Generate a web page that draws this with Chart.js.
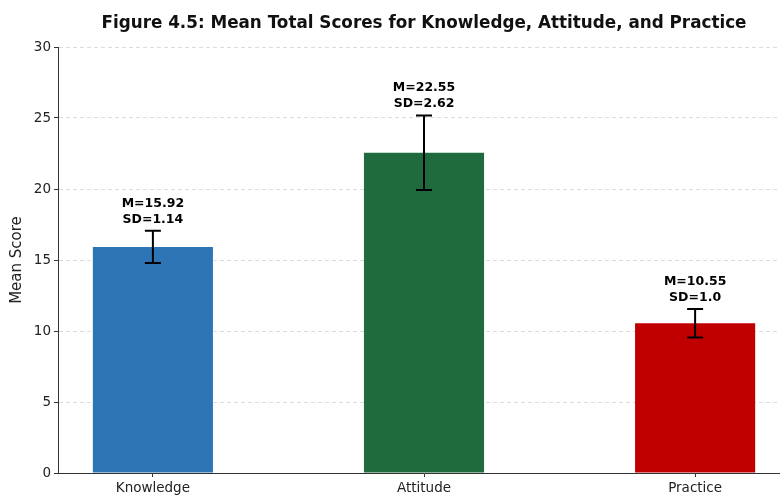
<!DOCTYPE html>
<html>
<head>
<meta charset="utf-8">
<script src="https://cdn.jsdelivr.net/npm/chart.js@4.4.1/dist/chart.umd.min.js"></script>
<style>
  html, body { margin: 0; padding: 0; background: #fff; overflow: hidden; }
  #wrap { position: relative; width: 780px; height: 495px; overflow: hidden; }
</style>
</head>
<body>
<div id="wrap"><canvas id="kap-chart" width="848" height="495"></canvas></div>
<script>
// mean total scores per domain
const categories = ["Knowledge", "Attitude", "Practice"];
const means = [15.92, 22.55, 10.55];
const sds = [1.14, 2.62, 1.0];
const sdLabels = ["1.14", "2.62", "1.0"];
const barColors = ["#2e75b6", "#1f6b3e", "#c00000"];
const yTicks = [0, 5, 10, 15, 20, 25, 30];
const chartTitle = "Figure 4.5: Mean Total Scores for Knowledge, Attitude, and Practice";

const FONT = "'DejaVu Sans', sans-serif";

// error bars + "M= / SD=" labels on top of each bar
const errorBars = {
  id: "errorBars",
  afterDatasetsDraw(chart) {
    const { ctx, scales: { x, y } } = chart;
    ctx.save();
    means.forEach((m, i) => {
      const cx = x.getPixelForValue(i);
      const top = y.getPixelForValue(m + sds[i]);
      const bot = y.getPixelForValue(m - sds[i]);
      ctx.strokeStyle = "#000";
      ctx.lineWidth = 2;
      ctx.beginPath();
      ctx.moveTo(cx, top); ctx.lineTo(cx, bot);
      ctx.moveTo(cx - 8, top); ctx.lineTo(cx + 8, top);
      ctx.moveTo(cx - 8, bot); ctx.lineTo(cx + 8, bot);
      ctx.stroke();

      const base = y.getPixelForValue(m + sds[i] + 0.5) - 1;
      ctx.fillStyle = "#000";
      ctx.font = "bold 12.5px " + FONT;
      ctx.textAlign = "center";
      ctx.textBaseline = "alphabetic";
      ctx.fillText("SD=" + sdLabels[i], cx, base);
      ctx.fillText("M=" + m.toFixed(2), cx, base - 16);
    });
    ctx.restore();
  }
};

// title centred over the plot area rather than the canvas
const axesTitle = {
  id: "axesTitle",
  afterDraw(chart) {
    const { ctx, chartArea } = chart;
    ctx.save();
    ctx.fillStyle = "#111";
    ctx.font = "bold 16.8px " + FONT;
    ctx.textAlign = "center";
    ctx.textBaseline = "alphabetic";
    ctx.fillText(chartTitle, (chartArea.left + chartArea.right) / 2, 28);
    ctx.restore();
  }
};

new Chart(document.getElementById("kap-chart"), {
  type: "bar",
  data: {
    datasets: [{
      data: means.map((m, i) => ({ x: i, y: m })),
      backgroundColor: barColors,
      borderWidth: 0,
      categoryPercentage: 1,
      barPercentage: 0.443
    }]
  },
  options: {
    responsive: false,
    animation: false,
    devicePixelRatio: 1,
    layout: { padding: { left: 8, right: 58, top: 47, bottom: 0 } },
    plugins: {
      legend: { display: false },
      tooltip: { enabled: false },
      title: { display: false }
    },
    scales: {
      x: {
        type: "linear",
        offset: false,
        min: -0.35,
        max: 2.35,
        afterBuildTicks: (s) => { s.ticks = categories.map((_, i) => ({ value: i })); },
        afterFit: (s) => { s.height = 22; },
        ticks: {
          callback: (v) => categories[v],
          autoSkip: false,
          color: "#222",
          font: { family: FONT, size: 13.5 },
          padding: 3,
          maxRotation: 0
        },
        grid: { offset: false, drawOnChartArea: false, tickLength: 4, tickColor: "#333" },
        border: { color: "#333", width: 1 }
      },
      y: {
        min: 0,
        max: 30,
        afterBuildTicks: (s) => { s.ticks = yTicks.map((v) => ({ value: v })); },
        afterFit: (s) => { s.width = 50; },
        ticks: {
          autoSkip: false,
          color: "#222",
          font: { family: FONT, size: 13.5 },
          padding: 3
        },
        title: {
          display: true,
          text: "Mean Score",
          color: "#222",
          font: { family: FONT, size: 15 },
          padding: { top: 0, bottom: 2 }
        },
        grid: {
          color: "#dcdcdc",
          tickLength: 4,
          tickColor: "#333"
        },
        border: { color: "#333", width: 1, dash: [4, 3] }
      }
    }
  },
  plugins: [errorBars, axesTitle]
});
</script>
</body>
</html>
